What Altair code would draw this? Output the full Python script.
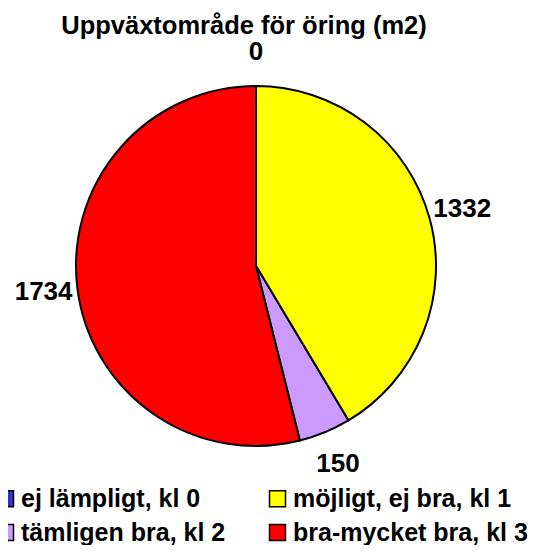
import altair as alt
import pandas as pd

categories = ["ej lämpligt, kl 0", "möjligt, ej bra, kl 1", "tämligen bra, kl 2", "bra-mycket bra, kl 3"]
klass = [0, 1, 2, 3]
values = [0, 1332, 150, 1734]
colors = ["#3333CC", "#FFFF00", "#CC99FF", "#FF0000"]
title_text = "Uppväxtområde för öring (m2)"

df = pd.DataFrame({"kategori": categories, "klass": klass, "värde": values})

FONT = "Liberation Sans"

base = alt.Chart(df).encode(
    theta=alt.Theta("värde:Q", stack=True),
    order=alt.Order("klass:Q", sort="ascending"),
)

pie = base.mark_arc(radius=180, stroke="black", strokeWidth=2).encode(
    color=alt.Color(
        "kategori:N",
        scale=alt.Scale(domain=categories, range=colors),
        sort=categories,
        legend=alt.Legend(
            title=None,
            orient="none",
            direction="horizontal",
            legendX=-15,
            legendY=430,
            columns=2,
            columnPadding=39,
            rowPadding=8,
            symbolType="square",
            symbolSize=256,
            symbolStrokeColor="black",
            symbolStrokeWidth=1.5,
            labelFont=FONT,
            labelFontSize=25,
            labelFontWeight="bold",
            labelColor="black",
            labelOffset=3,
            labelLimit=0,
            padding=0,
        ),
    ),
)

labels = base.mark_text(
    radius=214, font=FONT, fontSize=26, fontWeight="bold", color="black",
    align="center", baseline="middle",
).encode(text=alt.Text("värde:Q"))

chart = (
    alt.layer(pie, labels)
    .properties(
        width=496,
        height=420,
        padding={"left": 0, "top": 48, "right": 33, "bottom": 69},
        autosize=alt.AutoSizeParams(type="none"),
        title=alt.TitleParams(
            title_text, font=FONT, fontSize=25.5, fontWeight="bold", color="black",
            anchor="middle", offset=7, dx=-12, dy=7,
        ),
    )
    .configure_view(stroke=None)
)

chart.save("out.html", embed_options={"renderer": "svg", "actions": False})
